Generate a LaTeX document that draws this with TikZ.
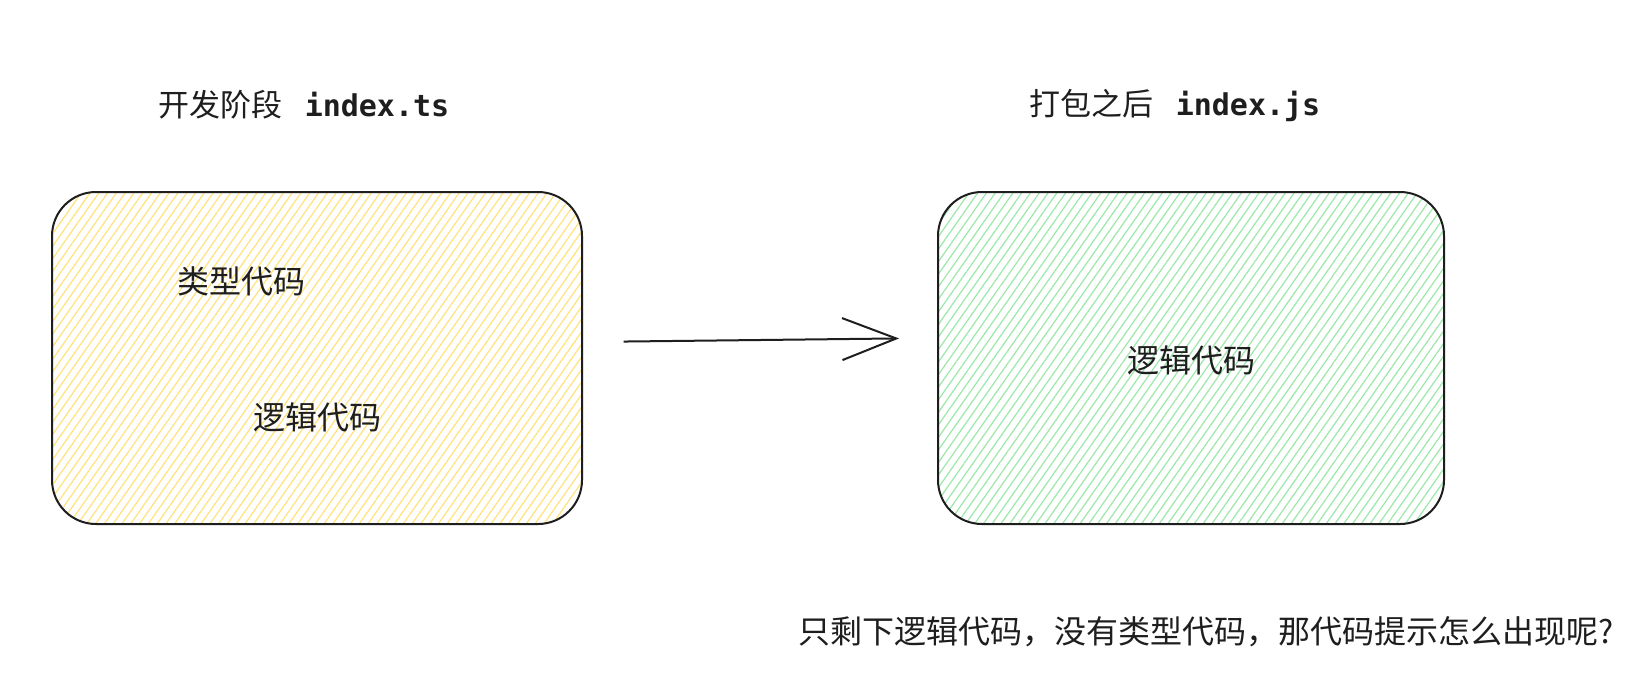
\documentclass[tikz,border=0pt]{standalone}
\usepackage{fontspec}
\newfontfamily\cjk{Noto Sans CJK SC}
\newfontfamily\codefont{DejaVu Sans Mono}
\usetikzlibrary{patterns.meta,arrows.meta}
\definecolor{ink}{HTML}{1E1E1E}
\definecolor{hatchyellow}{HTML}{FFE27A}
\definecolor{hatchgreen}{HTML}{9BE8A8}
\begin{document}
\begin{tikzpicture}
  [x=0.5pt,y=-0.5pt,every node/.style={text=ink,font=\cjk\fontsize{16pt}{19pt}\selectfont},
   codebox/.style={draw=ink,line width=1pt,rounded corners=22pt,minimum height=166pt},
   label/.style={inner sep=0pt}]
  \fill[white] (0,0) rectangle (1644,698);
  \node[label] (tstitle) at (304,105) {\fontsize{15.5pt}{19pt}\selectfont 开发阶段\hspace{11pt}{\codefont\bfseries\fontsize{15pt}{19pt}\selectfont index.ts}};
  \node[label] (jstitle) at (1175,105) {\fontsize{15.5pt}{19pt}\selectfont 打包之后\hspace{11pt}{\codefont\bfseries\fontsize{15pt}{19pt}\selectfont index.js}};
  \node[codebox,minimum width=265pt,pattern={Lines[angle=55,distance=3.6pt,line width=0.6pt]},pattern color=hatchyellow] (tsbox) at (317,358) {};
  \node[codebox,minimum width=253pt,pattern={Lines[angle=55,distance=3.6pt,line width=0.6pt]},pattern color=hatchgreen] (jsbox) at (1191,358) {};
  \node[label] (types) at (241,281) {类型代码};
  \node[label] (logicts) at (317,417) {逻辑代码};
  \node[label] (logicjs) at (1191,360) {逻辑代码};
  \node[label] (question) at (1206,632) {只剩下逻辑代码，没有类型代码，那代码提示怎么出现呢?};
  \draw[ink,line width=1pt,-{Straight Barb[length=27pt,width=21pt,line width=1pt]},shorten <=20.5pt,shorten >=19pt]
    ([yshift=8pt]tsbox.east) -- ([yshift=10pt]jsbox.west);
\end{tikzpicture}
\end{document}
